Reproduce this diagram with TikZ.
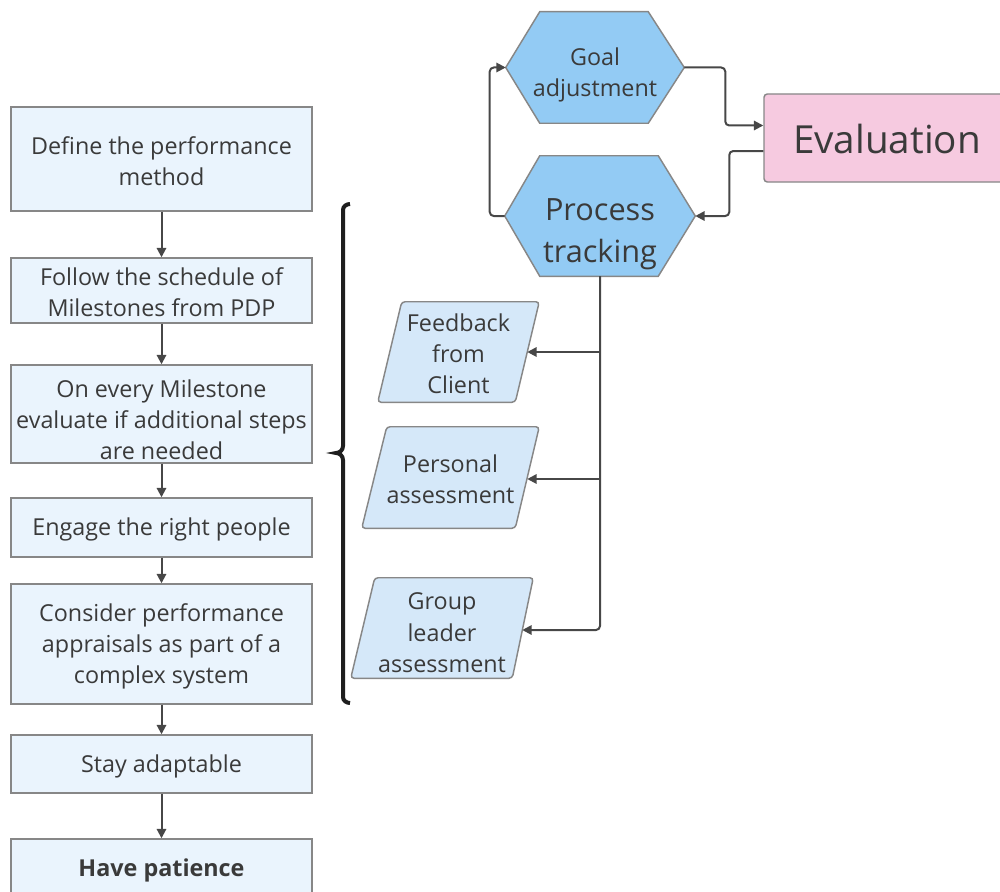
\documentclass[tikz,border=0pt]{standalone}
\usepackage{fontspec}
\setmainfont{Open Sans}
\usetikzlibrary{arrows.meta,fit,calc}
\pgfdeclarelayer{background}
\pgfsetlayers{background,main}

\definecolor{stepfill}{HTML}{EAF4FD}
\definecolor{parafill}{HTML}{D5E8F9}
\definecolor{hexfill}{HTML}{93CBF4}
\definecolor{evalfill}{HTML}{F6CAE0}
\definecolor{edgec}{HTML}{878787}
\definecolor{inkc}{HTML}{3A3A3A}
\definecolor{linec}{HTML}{474747}
\definecolor{bracec}{HTML}{1E1E1E}

\begin{document}
\begin{tikzpicture}[x=0.75pt,y=-0.75pt,
  lbl/.style={text=inkc, align=center, inner sep=0pt},
  normal/.style={font=\fontsize{17.5}{23.3}\selectfont, yshift=-1.5},
  boldtext/.style={font=\fontsize{17.5}{23.3}\selectfont\bfseries, yshift=-1.5},
  stepbox/.style={draw=edgec, line width=1.1pt, fill=stepfill, inner sep=0pt},
  shapebox/.style={inner sep=0pt},
  outline/.style={draw=edgec, line width=1.1pt},
  conn/.style={draw=linec, line width=1.5pt, -{Triangle[length=7pt,width=7pt]}},
  bracestyle/.style={draw=bracec, line width=3pt},
]
\path[use as bounding box, clip] (0,0) rectangle (1000,892);

% left column of steps
\node[stepbox, fit={(11,107)(312,211)},
      label={[lbl,normal]center:{Define the performance\\method}}] (s1) {};
\node[stepbox, fit={(11,258)(312,323)},
      label={[lbl,normal]center:{Follow the schedule of\\Milestones from PDP}}] (s2) {};
\node[stepbox, fit={(11,365)(312,463)},
      label={[lbl,normal,yshift=-3]center:{On every Milestone\\evaluate if additional steps\\are needed}}] (s3) {};
\node[stepbox, fit={(11,498)(312,557)},
      label={[lbl,normal]center:{Engage the right people}}] (s4) {};
\node[stepbox, fit={(11,584)(312,704)},
      label={[lbl,normal]center:{Consider performance\\appraisals as part of a\\complex system}}] (s5) {};
\node[stepbox, fit={(11,735)(312,793)},
      label={[lbl,normal]center:{Stay adaptable}}] (s6) {};
\node[stepbox, fit={(11,839)(312,897)},
      label={[lbl,boldtext]center:{Have patience}}] (s7) {};

\foreach \a/\b in {s1/s2,s2/s3,s3/s4,s4/s5,s5/s6,s6/s7}
  \draw[conn] (\a.south) -- (\b.north);

% brace
\draw[bracestyle] (350,204) to[out=180,in=90] (343,210) -- (343,446)
  to[out=-90,in=0] (336,453) to[out=0,in=90] (343,460) -- (343,697)
  to[out=-90,in=180] (350,703);

% hexagons
\node[shapebox, fit={(506,12)(684,123)},
      label={[lbl,normal,yshift=-4]center:{Goal\\adjustment}}] (goal) {};
\node[shapebox, fit={(505,156)(695,276)},
      label={[lbl,font=\fontsize{23}{31.5}\selectfont,yshift=-14]center:{Process\\tracking}}] (proc) {};

% evaluation
\node[draw=edgec, line width=1.1pt, fill=evalfill, rounded corners=2.5pt, inner sep=0pt,
      fit={(764,94)(1010,182)},
      label={[lbl,font=\fontsize{29}{36}\selectfont,yshift=-1]center:{Evaluation}}] (eval) {};

% inputs
\node[shapebox, fit={(378,302)(539,402)},
      label={[lbl,normal]center:{Feedback\\from\\Client}}] (fb) {};
\node[shapebox, fit={(362,427)(539,528)},
      label={[lbl,normal]center:{Personal\\assessment}}] (pa) {};
\node[shapebox, fit={(351,578)(533,678)},
      label={[lbl,normal,yshift=-2]center:{Group\\leader\\assessment}}] (gl) {};

\begin{pgfonlayer}{background}
  \path[outline, fill=hexfill] (goal.west) -- ($(goal.north west)+(34,0)$)
    -- ($(goal.north east)+(-36,0)$) -- (goal.east)
    -- ($(goal.south east)+(-36,0)$) -- ($(goal.south west)+(34,0)$) -- cycle;
  \path[outline, fill=hexfill] (proc.west) -- ($(proc.north west)+(35,0)$)
    -- ($(proc.north east)+(-37,0)$) -- (proc.east)
    -- ($(proc.south east)+(-37,0)$) -- ($(proc.south west)+(35,0)$) -- cycle;
  \path[outline, fill=parafill, rounded corners=2.5pt] ($(fb.north west)+(24,0)$)
    -- (fb.north east) -- ($(fb.south east)+(-24,0)$) -- (fb.south west) -- cycle;
  \path[outline, fill=parafill, rounded corners=2.5pt] ($(pa.north west)+(25,0)$)
    -- (pa.north east) -- ($(pa.south east)+(-24,0)$) -- (pa.south west) -- cycle;
  \path[outline, fill=parafill, rounded corners=2.5pt] ($(gl.north west)+(24,0)$)
    -- (gl.north east) -- ($(gl.south east)+(-21,0)$) -- (gl.south west) -- cycle;
\end{pgfonlayer}

% feedback loop connectors
\draw[conn, rounded corners=3pt] (goal.east) -- ++(41,0) |- ($(eval.west)+(0,-12.5)$);
\draw[conn, rounded corners=3pt] ($(eval.west)+(0,13)$) -- ++(-34,0) |- (proc.east);
\draw[conn, rounded corners=3pt] (proc.west) -- ++(-15,0) |- (goal.west);

% tracking branches
\draw[conn] (proc.south) |- ($(fb.east)+(-12,0)$);
\draw[conn] (proc.south) |- ($(pa.east)+(-12,1.5)$);
\draw[conn, rounded corners=3pt] (proc.south) |- ($(gl.east)+(-11,2)$);
\end{tikzpicture}
\end{document}
